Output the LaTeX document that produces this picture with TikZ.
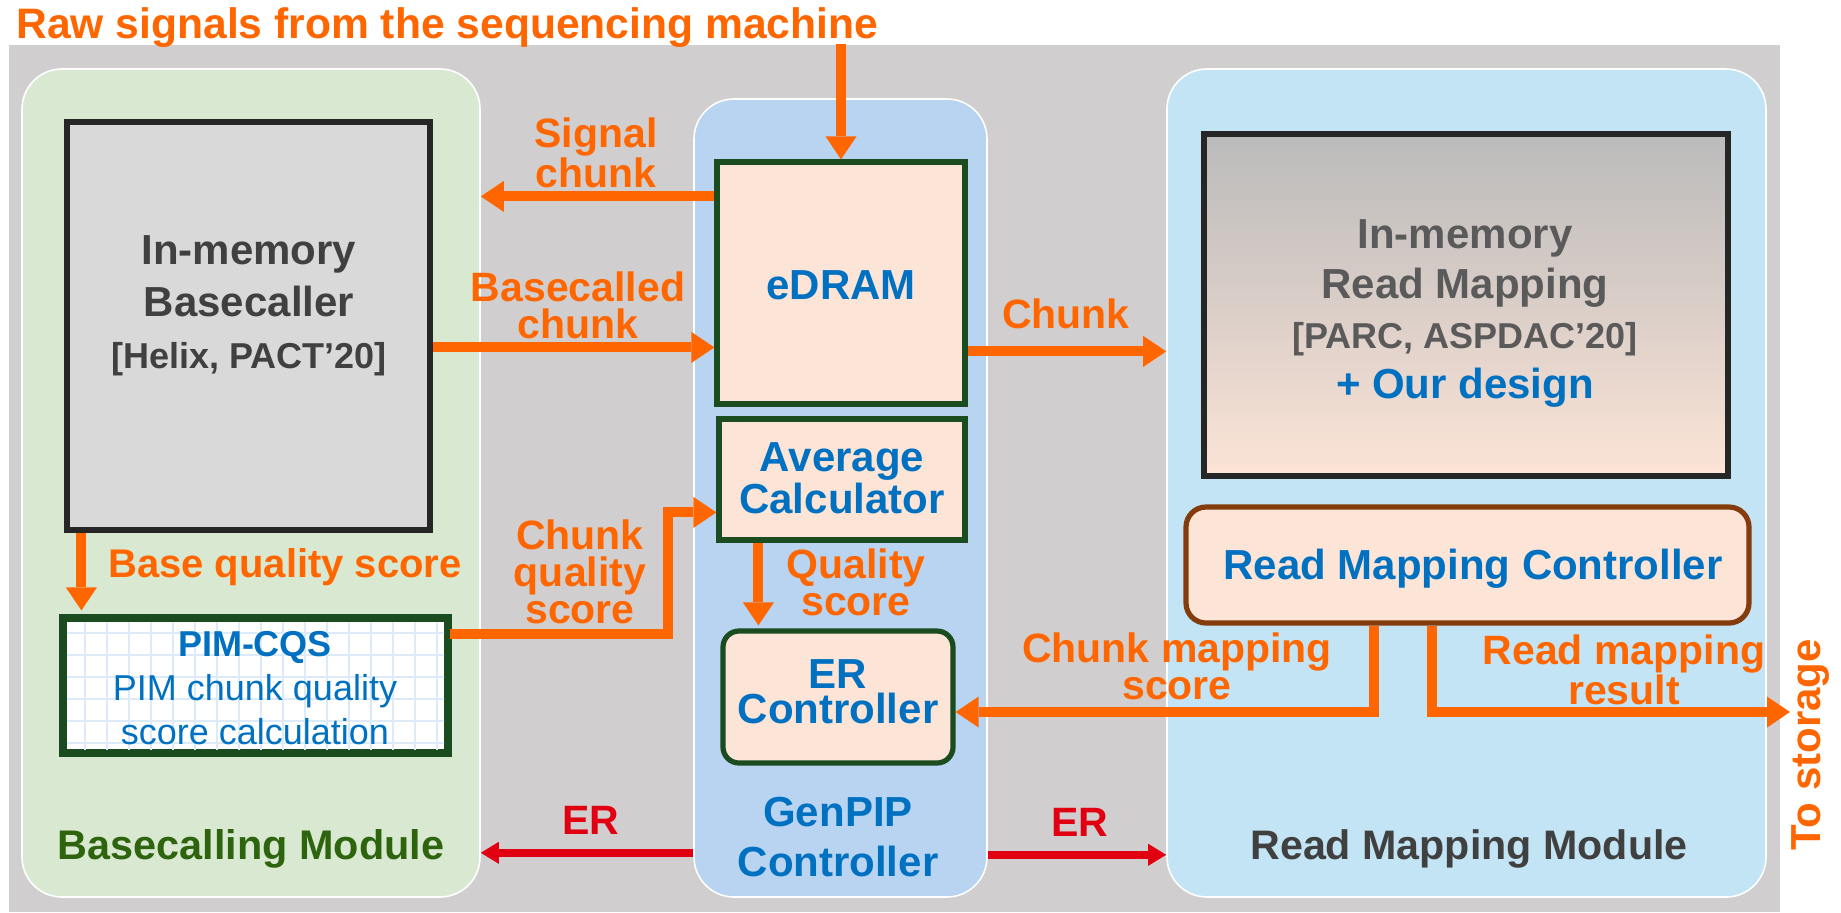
\documentclass[tikz,border=0pt]{standalone}
\usepackage{fontspec}
\setmainfont{Liberation Sans}
\usetikzlibrary{arrows.meta,calc,fit}
\definecolor{bggray}{RGB}{208,206,206}
\definecolor{modgreen}{RGB}{216,232,209}
\definecolor{modblue}{RGB}{184,212,240}
\definecolor{modcyan}{RGB}{194,228,244}
\definecolor{peach}{RGB}{252,228,214}
\definecolor{boxgray}{RGB}{217,217,217}
\definecolor{darkline}{RGB}{38,38,38}
\definecolor{dgreen}{RGB}{26,76,32}
\definecolor{orng}{RGB}{255,102,0}
\definecolor{txtblue}{RGB}{0,112,192}
\definecolor{erred}{RGB}{224,0,18}
\definecolor{brn}{RGB}{132,60,12}
\definecolor{modtxtgreen}{RGB}{46,100,14}
\definecolor{txtgray}{RGB}{64,64,64}
\definecolor{rmgray}{RGB}{90,90,90}
\definecolor{gridblue}{RGB}{220,234,250}
\definecolor{rmtop}{RGB}{187,187,187}
\begin{document}
\begin{tikzpicture}[x=0.5pt,y=-0.5pt,
  module/.style={draw=white, line width=0.8pt, rounded corners=20pt, inner sep=0pt},
  blk/.style={inner sep=0pt, line width=2.6pt},
  oarr/.style={draw=orng, line width=5pt, -{Triangle[length=11.5pt,width=15.5pt,line width=0pt]}},
  rarr/.style={draw=erred, line width=4pt, -{Triangle[length=9pt,width=11pt,line width=0pt]}},
  lbl/.style={text=orng, font=\bfseries\fontsize{20.5}{18.5}\selectfont, align=center, inner sep=0pt},
  bluetxt/.style={text=txtblue, font=\bfseries\fontsize{21}{21}\selectfont, align=center, inner sep=0pt},
  gridline/.style={draw=gridblue, line width=0.8pt}]
\useasboundingbox (0,0) rectangle (1841,912);
\fill[bggray] (9,45) rectangle (1780,912);

% modules
\node[module, fill=modgreen, fit={(22,69) (480,897)}] (green) {};
\node[module, fill=modblue, fit={(694,99) (987,897)}] (blue) {};
\node[module, fill=modcyan, fit={(1167,69) (1766,897)}] (rmmod) {};

% blocks
\node[blk, draw=darkline, fill=boxgray, fit={(67,122) (430,530)}] (bc) {};
\node[blk, draw=dgreen, fill=peach, fit={(717,162) (965,404)}] (edram) {};
\node[blk, draw=dgreen, fill=peach, fit={(719,419) (965,540)}] (avg) {};
\node[blk, draw=dgreen, fill=peach, rounded corners=8pt, fit={(723,631) (953,763)}] (er) {};
\node[blk, draw=dgreen, fill=white, fit={(64,619) (447,752)}] (pim) {};
\begin{scope}
  \clip (67,622) rectangle (444,749);
  \foreach \i in {85,107,...,445} \draw[gridline] (\i,619) -- (\i,752);
  \foreach \j in {633,655,...,752} \draw[gridline] (64,\j) -- (447,\j);
\end{scope}
\draw[dgreen, line width=2.6pt] (pim.north west) rectangle (pim.south east);
\node[blk, draw=darkline, top color=rmtop, bottom color=peach, middle color={rgb,255:red,218;green,206;blue,200}, fit={(1204,134) (1728,476)}] (rmbox) {};
\node[blk, draw=brn, fill=peach, rounded corners=10pt, fit={(1186,507) (1749,623)}] (rmc) {};

% texts in blocks
\node[text=txtgray, font=\bfseries\fontsize{21}{26}\selectfont, align=center, inner sep=0pt] (bctxt) at (249,306)
  {In-memory\\Basecaller\\{\fontsize{18}{22}\selectfont [Helix, PACT’20]}};
\node[bluetxt] (edramtxt) at (841,285) {eDRAM};
\node[bluetxt] (avgtxt) at (842,478) {Average\\Calculator};
\node[text=txtblue, font=\bfseries\fontsize{21}{17.5}\selectfont, align=center, inner sep=0pt] (ertxt) at (838,692) {ER\\Controller};
\node[text=txtblue, font=\fontsize{18}{22}\selectfont, align=center, inner sep=0pt] (pimtxt) at (255,688)
  {\textbf{PIM-CQS}\\PIM chunk quality\\score calculation};
\node[text=rmgray, font=\bfseries\fontsize{21}{25}\selectfont, align=center, inner sep=0pt] (rmtxt) at (1465,313)
  {In-memory\\Read Mapping\\{\fontsize{18}{22}\selectfont [PARC, ASPDAC’20]}\\\textcolor{txtblue}{+ Our design}};
\node[bluetxt] (rmctxt) at (1473,569) {Read Mapping Controller};

% module labels
\node[text=modtxtgreen, font=\bfseries\fontsize{20.7}{25}\selectfont, inner sep=0pt] (bcm) at (251,849) {Basecalling Module};
\node[text=txtblue, font=\bfseries\fontsize{21}{25}\selectfont, align=center, inner sep=0pt] (gpc) at (838,837) {GenPIP\\Controller};
\node[text=txtgray, font=\bfseries\fontsize{20.6}{25}\selectfont, inner sep=0pt] (rmm) at (1469,849) {Read Mapping Module};

% title and side text
\node[text=orng, font=\bfseries\fontsize{21.3}{24}\selectfont, anchor=base west, inner sep=0pt] (title) at (16,38) {Raw signals from the sequencing machine};
\node[text=orng, font=\bfseries\fontsize{21}{24}\selectfont, rotate=90, inner sep=0pt] (tostore) at (1810,745) {To storage};

% connectors
\coordinate (rawstart) at (841,44);
\draw[oarr] (rawstart) -- (edram.north);

\path ($(edram.north west)+(0,37)$) coordinate (sigA);
\draw[oarr] (sigA) -- (green.east |- sigA);

\path ($(bc.north east)+(0,228)$) coordinate (bcA);
\draw[oarr] (bcA) -- (edram.west |- bcA);

\path ($(edram.north east)+(0,192)$) coordinate (chA);
\draw[oarr] (chA) -- (rmmod.west |- chA);

\path ($(bc.south west)+(17,0)$) coordinate (bqA);
\draw[oarr] (bqA) -- ($(pim.north -| bqA)+(0,-6)$);

\path ($(pim.north east)+(0,18)$) coordinate (cqA);
\path ($(avg.north west)+(0,96)$) coordinate (cqB);
\draw[oarr] (cqA) -| ($(cqB)+(-48,0)$) -- (cqB);

\path ($(avg.south west)+(42,0)$) coordinate (qsA);
\draw[oarr] (qsA) -- ($(er.north -| qsA)+(0,-3)$);

\path ($(rmc.south west)+(191,0)$) coordinate (cmA);
\path ($(er.east)+(0,15)$) coordinate (cmB);
\draw[oarr] (cmA) |- (cmB);

\path ($(rmc.south west)+(249,0)$) coordinate (rmA);
\coordinate (storage) at (1790,712);
\draw[oarr] (rmA) |- (storage);

\path ($(blue.south west)+(0,-45)$) coordinate (erA);
\draw[rarr] (erA) -- (green.east |- erA);
\path ($(blue.south east)+(0,-43)$) coordinate (erB);
\draw[rarr] (erB) -- (rmmod.west |- erB);

% arrow labels
\node[lbl] (l1) at (596,153) {Signal\\chunk};
\node[lbl] (l2) at (578,305) {Basecalled\\chunk};
\node[lbl] (l3) at (1066,314) {Chunk};
\node[lbl, font=\bfseries\fontsize{20}{18.5}\selectfont] (l4) at (285,567) {Base quality score};
\node[lbl] (l5) at (580,572) {Chunk\\quality\\score};
\node[lbl] (l6) at (856,582) {Quality\\score};
\node[lbl] (l7) at (1177,666) {Chunk mapping\\score};
\node[lbl] (l8) at (1624,670) {Read mapping\\result};
\node[lbl, text=erred] (l9) at (591,820) {ER};
\node[lbl, text=erred] (l10) at (1080,822) {ER};
\end{tikzpicture}
\end{document}
